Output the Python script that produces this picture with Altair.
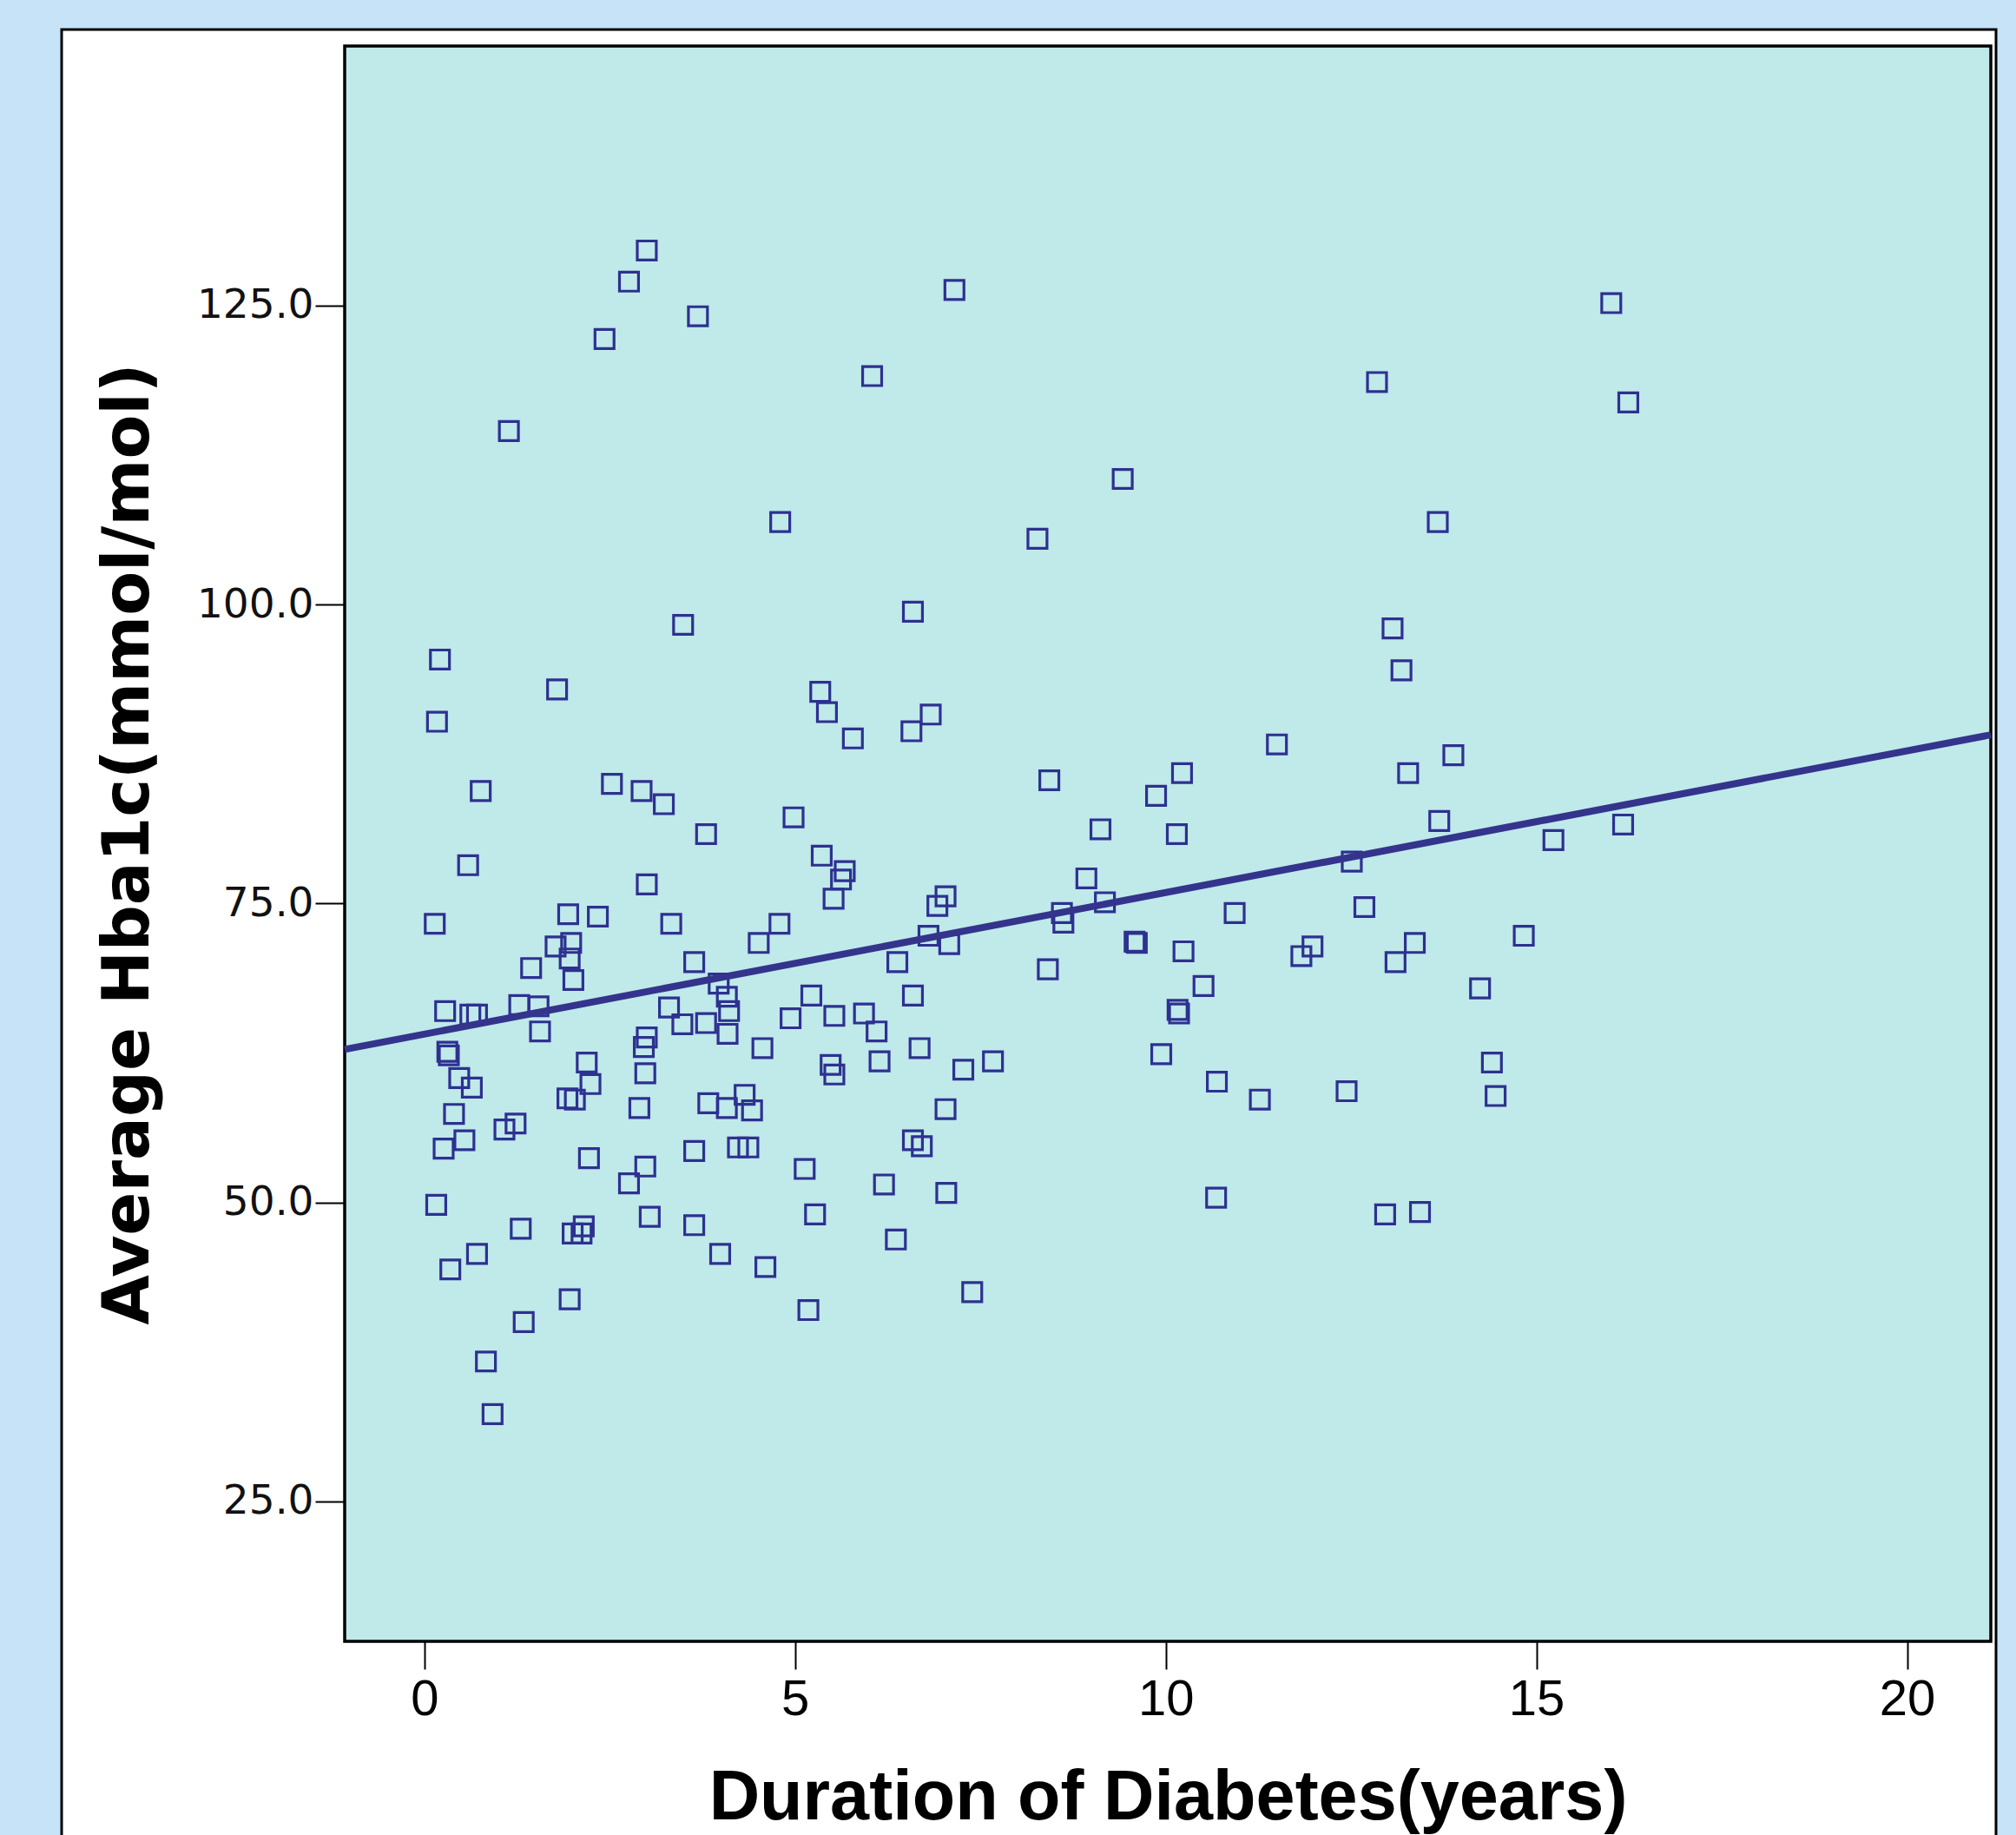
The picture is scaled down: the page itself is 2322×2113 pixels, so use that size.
import altair as alt
import pandas as pd

# Duration of diabetes (years) and average HbA1c (mmol/mol)
duration = [3.00, 2.76, 3.69, 2.43, 7.15, 6.04, 1.14, 4.80, 8.27, 9.42,
            16.01, 16.24, 12.85, 13.67, 6.59, 3.49, 0.21, 0.17, 1.79, 5.34,
            5.43, 5.78, 6.57, 6.83, 13.06, 13.18, 11.50, 13.88, 13.27, 10.22,
            8.43, 9.87, 10.15, 9.12, 13.69, 15.23, 16.17, 2.53, 2.93, 3.23,
            4.98, 0.76, 3.80, 0.59, 5.36, 5.67, 5.62, 5.52, 3.00, 0.14,
            1.94, 2.34, 3.33, 4.79, 4.51, 3.64, 1.77, 1.98, 1.96, 2.01,
            1.44, 7.03, 6.92, 6.80, 7.08, 6.38, 8.93, 9.18, 8.60, 8.62,
            9.58, 9.61, 8.41, 10.93, 10.24, 12.51, 12.68, 13.36, 13.10, 11.98,
            11.83, 14.83, 14.24, 10.51, 10.16, 10.18, 6.59, 5.22, 5.93, 5.53,
            6.10, 4.94, 4.08, 4.11, 4.09, 3.97, 3.80, 3.30, 3.48, 0.28,
            0.62, 0.71, 1.28, 1.54, 1.56, 0.31, 0.33, 0.47, 0.64, 0.40,
            0.54, 0.26, 1.08, 1.23, 0.16, 0.35, 0.71, 0.83, 0.92, 1.34,
            1.30, 1.96, 2.00, 2.12, 2.15, 2.22, 1.93, 2.03, 2.24, 2.19,
            2.76, 2.98, 3.04, 2.90, 2.98, 2.96, 3.00, 3.64, 3.64, 3.99,
            3.83, 4.08, 4.32, 4.42, 4.23, 4.37, 4.56, 4.60, 5.13, 5.27,
            5.18, 5.48, 5.53, 6.14, 6.20, 6.36, 6.68, 6.59, 6.71, 7.03,
            7.04, 7.27, 7.39, 7.67, 9.94, 10.69, 11.27, 10.68, 12.44, 12.96,
            13.43, 14.40, 14.45]

hba1c = [129.6, 127.0, 124.1, 122.2, 126.3, 119.1, 114.5, 106.9, 105.5, 110.5,
         125.2, 116.9, 118.6, 106.9, 99.4, 98.3, 95.4, 90.2, 92.9, 92.7,
         91.0, 88.8, 89.4, 90.8, 98.0, 94.5, 88.3, 87.4, 85.9, 85.9,
         85.3, 84.0, 80.8, 81.2, 81.9, 80.3, 81.6, 85.0, 84.4, 83.3,
         82.2, 84.4, 80.8, 78.2, 79.0, 77.7, 77.0, 75.4, 76.6, 73.3,
         74.1, 73.9, 73.3, 73.3, 71.7, 70.1, 71.4, 71.7, 70.4, 68.6,
         69.6, 75.6, 74.8, 72.3, 71.6, 70.1, 77.1, 75.1, 74.2, 73.4,
         71.8, 71.7, 69.5, 74.2, 71.0, 78.5, 74.7, 71.7, 70.1, 71.4,
         70.6, 72.3, 67.9, 68.1, 66.1, 65.8, 67.3, 67.3, 65.8, 65.6,
         64.3, 65.4, 67.2, 66.0, 64.1, 68.3, 65.0, 66.3, 64.9, 66.0,
         65.7, 65.7, 66.5, 66.4, 64.3, 62.6, 62.3, 60.4, 59.6, 57.4,
         55.2, 54.5, 56.1, 56.6, 49.8, 44.4, 45.7, 36.7, 32.3, 40.0,
         47.8, 41.9, 47.4, 47.4, 48.0, 53.7, 58.7, 58.6, 59.9, 61.7,
         51.6, 53.0, 48.8, 57.9, 60.8, 63.0, 63.8, 54.3, 48.1, 45.7,
         58.3, 57.9, 59.0, 57.7, 54.6, 54.6, 62.9, 44.6, 52.8, 49.0,
         41.0, 61.5, 60.7, 61.8, 51.5, 46.9, 62.9, 55.2, 54.7, 57.8,
         50.8, 61.1, 42.5, 61.8, 62.4, 60.1, 58.6, 50.4, 59.3, 49.0,
         49.2, 61.7, 58.9]

# Fit line as drawn in the picture (ends at the plot edges)
line_x = [-1.075, 21.13]
line_y = [62.8, 89.1]

x_ticks = [0, 5, 10, 15, 20]
y_ticks = [25, 50, 75, 100, 125]

W, H = 1896, 1837

points_df = pd.DataFrame({"x": duration, "y": hba1c})
line_df = pd.DataFrame({"x": line_x, "y": line_y})
one = pd.DataFrame({"k": [0]})

xscale = alt.Scale(domain=[-1.075, 21.13], nice=False, zero=False)
yscale = alt.Scale(domain=[13.3, 146.7], nice=False, zero=False)

xaxis = alt.Axis(values=x_ticks, format="d", title="Duration of Diabetes(years)",
                 domain=False, grid=False, tickSize=32, tickWidth=2, tickColor="black",
                 labelFont="Liberation Sans", labelFontSize=58, labelColor="black",
                 labelPadding=6, titleFont="Liberation Sans", titleFontWeight="bold",
                 titleFontSize=81, titleColor="black", titleY=180, titleBaseline="middle",
                 zindex=1)
yaxis = alt.Axis(values=y_ticks, format=".1f", title="Average Hba1c(mmol/mol)",
                 domain=False, grid=False, tickSize=34, tickWidth=2, tickColor="black",
                 labelFont="DejaVu Sans", labelFontSize=47, labelColor="#111111",
                 labelPadding=2, titleFont="DejaVu Sans", titleFontWeight="bold",
                 titleFontSize=74, titleColor="black", titleX=-249, titleY=H / 2,
                 titleAngle=270, titleBaseline="middle", titleAlign="center", zindex=1)

panel = alt.Chart(one).mark_rect(fill="white", stroke="black", strokeWidth=3).encode(
    x=alt.value(-326), x2=alt.value(1902), y=alt.value(-19), y2=alt.value(2120))

plot_bg = alt.Chart(one).mark_rect(fill="#c0e9ea", stroke="black", strokeWidth=3.5).encode(
    x=alt.value(0), x2=alt.value(W), y=alt.value(0), y2=alt.value(H))

pts = alt.Chart(points_df).mark_point(shape="square", filled=False, size=480,
                                       strokeWidth=3.2, color="#2d3190", opacity=1).encode(
    x=alt.X("x:Q", scale=xscale, axis=xaxis),
    y=alt.Y("y:Q", scale=yscale, axis=yaxis))

fit = alt.Chart(line_df).mark_line(color="#34348c", strokeWidth=8).encode(
    x=alt.X("x:Q", scale=xscale, axis=xaxis),
    y=alt.Y("y:Q", scale=yscale, axis=yaxis))

chart = alt.layer(panel, plot_bg, pts, fit).properties(
    width=W, height=H,
    autosize=alt.AutoSizeParams(type="none"),
    padding={"left": 397, "top": 53, "right": 29, "bottom": 223},
).configure(background="#c6e3f7").configure_view(stroke=None)

chart.save("out.html", embed_options={"renderer": "svg", "actions": False})
